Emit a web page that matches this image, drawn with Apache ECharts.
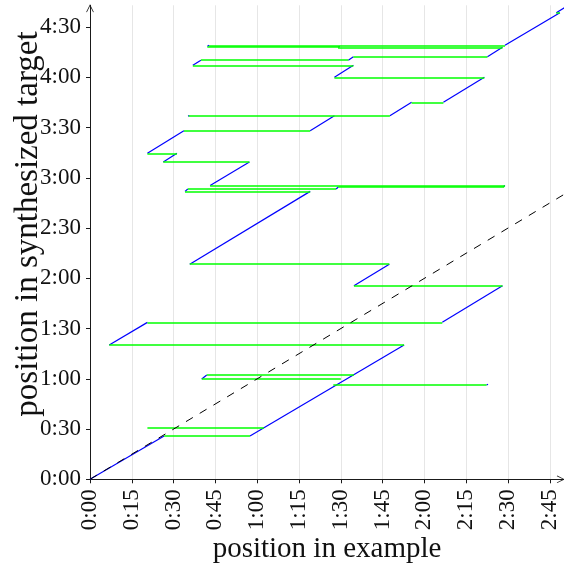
<!DOCTYPE html>
<html>
<head>
<meta charset="utf-8">
<script src="https://cdn.jsdelivr.net/npm/echarts@6/dist/echarts.min.js"></script>
<style>
  html, body { margin: 0; padding: 0; background: #fff; }
  #chart { width: 564px; height: 563px; }
</style>
</head>
<body>
<div id="chart"></div>
<script>
// Tick positions (seconds)
const xTicks = [0, 15, 30, 45, 60, 75, 90, 105, 120, 135, 150, 165];
const yTicks = [0, 30, 60, 90, 120, 150, 180, 210, 240, 270];

// Copied chunks: [example start, target start, example end, target end] in seconds
const copiedChunks = [
  [0, 0, 26.6, 25.9],
  [57.4, 25.9, 112.7, 80.2],
  [6.9, 80.2, 20.6, 93.7],
  [126.4, 93.7, 148.0, 115.6],
  [94.7, 115.6, 107.4, 128.4],
  [35.8, 128.4, 79.0, 171.9],
  [34.1, 171.9, 35.1, 173.3],
  [88.3, 173.3, 89.1, 174.5],
  [148.3, 174.7, 148.9, 175.4],
  [43.1, 175.4, 57.2, 189.4],
  [26.3, 189.4, 31.2, 194.6],
  [20.6, 194.6, 33.7, 208.1],
  [79.0, 208.1, 87.7, 217.1],
  [35.2, 216.8, 35.6, 217.2],
  [107.6, 217.1, 115.4, 225.1],
  [126.8, 225.1, 141.5, 240.0],
  [87.7, 240.0, 94.5, 247.2],
  [36.9, 247.2, 39.8, 250.2],
  [92.7, 250.2, 94.5, 252.3],
  [142.6, 252.3, 148.0, 257.9],
  [89.0, 257.9, 89.6, 258.5],
  [42.1, 258.5, 42.8, 259.1],
  [148.9, 259.1, 168.6, 278.6],
  [167.3, 278.6, 170.5, 281.8],
  [142.3, 56.3, 142.8, 56.8],
  [40.1, 59.9, 41.9, 62.3]
];

// Jumps between chunks: [target time, example from, example to] in seconds
const jumps = [
  [25.9, 26.6, 57.4],
  [30.8, 20.6, 62.4],
  [56.3, 87.3, 142.3],
  [59.9, 40.1, 90.0],
  [62.3, 41.9, 94.7],
  [80.2, 6.9, 112.7],
  [93.7, 20.6, 126.4],
  [115.6, 94.7, 148.0],
  [128.4, 35.8, 107.4],
  [171.9, 34.1, 79.0],
  [173.3, 35.1, 88.3],
  [174.6, 89.1, 148.6],
  [175.4, 43.1, 148.9],
  [189.4, 26.3, 57.2],
  [194.6, 20.6, 31.2],
  [208.1, 33.7, 79.0],
  [217.1, 35.4, 107.6],
  [225.1, 115.4, 126.8],
  [240.0, 87.7, 141.5],
  [247.2, 36.9, 94.5],
  [250.2, 39.8, 92.7],
  [252.3, 94.5, 142.6],
  [257.9, 89.0, 148.0],
  [258.5, 42.1, 89.6],
  [259.1, 42.8, 148.9],
  [278.6, 167.3, 168.6]
];

// Identity reference (target time == example time)
const identityLine = [[0, 0], [170, 170]];

const xMax = 170;
const yMax = 283;

function fmtTime(v) {
  const m = Math.floor(v / 60);
  const s = Math.round(v - m * 60);
  return m + ':' + (s < 10 ? '0' : '') + s;
}

const serif = '"Liberation Serif", "DejaVu Serif", serif';
const chevron = 'path://M0,10 L5,0 L10,10 L9.1,10.5 L5,2.2 L0.9,10.5 Z';

const chart = echarts.init(document.getElementById('chart'), null, { renderer: 'canvas' });

chart.setOption({
  animation: false,
  backgroundColor: '#ffffff',
  grid: { left: 90, right: 0.2, top: 5.3, bottom: 83.7, containLabel: false },
  xAxis: {
    type: 'value',
    min: 0,
    max: xMax,
    axisLine: {
      show: true, onZero: false,
      lineStyle: { color: '#1a1a1a', width: 1 },
      symbol: ['none', chevron],
      symbolSize: [8, 8],
      symbolOffset: [0, -3]
    },
    axisTick: { show: true, inside: false, length: 4, customValues: xTicks, lineStyle: { color: '#1a1a1a' } },
    axisLabel: {
      customValues: xTicks,
      rotate: 90,
      margin: 10,
      formatter: fmtTime,
      color: '#111',
      fontFamily: serif,
      fontSize: 23
    },
    splitLine: { show: true, lineStyle: { color: '#e6e6e6', width: 1 } }
  },
  yAxis: {
    type: 'value',
    min: 0,
    max: yMax,
    axisLine: {
      show: true, onZero: false,
      lineStyle: { color: '#1a1a1a', width: 1 },
      symbol: ['none', chevron],
      symbolSize: [8, 8],
      symbolOffset: [0, -3]
    },
    axisTick: { show: true, inside: false, length: 4, customValues: yTicks, lineStyle: { color: '#1a1a1a' } },
    axisLabel: {
      customValues: yTicks,
      margin: 9,
      formatter: fmtTime,
      color: '#111',
      fontFamily: serif,
      fontSize: 23
    },
    splitLine: { show: false }
  },
  graphic: [
    {
      type: 'text',
      x: 327, y: 549,
      style: {
        text: 'position in example',
        font: '29px ' + serif,
        fill: '#111',
        align: 'center',
        verticalAlign: 'middle'
      }
    },
    {
      type: 'text',
      x: 28, y: 224,
      rotation: Math.PI / 2,
      style: {
        text: 'position in synthesized target',
        font: '33px ' + serif,
        fill: '#111',
        align: 'center',
        verticalAlign: 'middle'
      }
    }
  ],
  series: [
    {
      name: 'chunks',
      type: 'lines',
      coordinateSystem: 'cartesian2d',
      silent: true,
      z: 3,
      clip: true,
      lineStyle: { color: '#0000ff', width: 1.2, opacity: 1 },
      data: copiedChunks.map(c => ({ coords: [[c[0], c[1]], [c[2], c[3]]] }))
    },
    {
      name: 'jumps',
      type: 'lines',
      coordinateSystem: 'cartesian2d',
      silent: true,
      z: 4,
      clip: true,
      lineStyle: { color: '#00ff00', width: 1.5, opacity: 1 },
      data: jumps.map(j => ({ coords: [[j[1], j[0]], [j[2], j[0]]] }))
    },
    {
      name: 'identity',
      type: 'line',
      silent: true,
      z: 5,
      clip: true,
      symbol: 'none',
      lineStyle: { color: '#000000', width: 1, type: [8, 8] },
      data: identityLine
    }
  ]
});
</script>
</body>
</html>
